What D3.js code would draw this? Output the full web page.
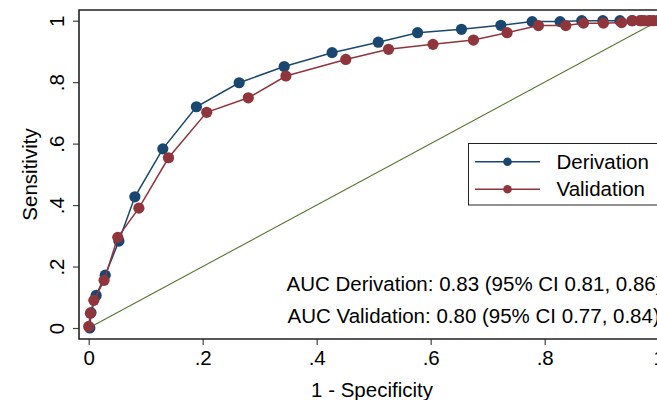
<!DOCTYPE html>
<html>
<head>
<meta charset="utf-8">
<script src="https://cdn.jsdelivr.net/npm/d3@7"></script>
<style>
  body { margin: 0; background: #fff; }
  svg { display: block; font-family: "Liberation Sans", Arial, Helvetica, sans-serif; }
</style>
</head>
<body>
<div id="chart"></div>
<script>
// ROC points, 1 - specificity vs sensitivity
var derivationX = [0.002, 0.004, 0.013, 0.029, 0.053, 0.081, 0.130, 0.189, 0.264, 0.343, 0.427, 0.508, 0.577, 0.654, 0.723, 0.778, 0.827, 0.865, 0.902, 0.932, 0.953, 0.970, 0.985, 1.000];
var derivationY = [0.000, 0.050, 0.106, 0.172, 0.283, 0.427, 0.583, 0.720, 0.798, 0.851, 0.896, 0.930, 0.961, 0.972, 0.985, 0.997, 0.997, 1.000, 1.000, 1.000, 1.000, 1.000, 1.000, 1.000];
var validationX = [0.000, 0.003, 0.009, 0.027, 0.051, 0.088, 0.140, 0.207, 0.280, 0.346, 0.451, 0.526, 0.604, 0.675, 0.734, 0.789, 0.837, 0.868, 0.903, 0.935, 0.954, 0.967, 0.975, 0.983, 0.991, 1.000];
var validationY = [0.005, 0.048, 0.090, 0.155, 0.295, 0.390, 0.554, 0.702, 0.749, 0.820, 0.874, 0.907, 0.923, 0.937, 0.961, 0.984, 0.984, 0.992, 0.992, 0.994, 1.000, 1.000, 1.000, 1.000, 1.000, 1.000];
var tickValues = [0, 0.2, 0.4, 0.6, 0.8, 1];
var tickLabels = ['0', '.2', '.4', '.6', '.8', '1'];
var seriesNames = ['Derivation', 'Validation'];
var aucLines = ['AUC Derivation: 0.83 (95% CI 0.81, 0.86)', 'AUC Validation: 0.80 (95% CI 0.77, 0.84)'];

var width = 657, height = 400;
var colors = ['#1a476f', '#90353b'];
var refColor = '#55752f';
var fontSize = 20.5;

var svg = d3.select('#chart').append('svg')
  .attr('width', width)
  .attr('height', height);

var x = d3.scaleLinear().domain([0, 1]).range([88.7, 658.7]);
var y = d3.scaleLinear().domain([0, 1]).range([328, 20.7]);

var axisX = 79, axisY = 339, topY = 10;

var fmt = function (d) {
  return tickLabels[tickValues.indexOf(d)];
};

// reference diagonal
svg.append('line')
  .attr('x1', x(0)).attr('y1', y(0))
  .attr('x2', x(1)).attr('y2', y(1))
  .attr('stroke', refColor)
  .attr('stroke-width', 1.1);

var series = [
  { name: seriesNames[0], xs: derivationX, ys: derivationY, color: colors[0] },
  { name: seriesNames[1], xs: validationX, ys: validationY, color: colors[1] }
];

var line = d3.line()
  .x(function (d) { return x(d[0]); })
  .y(function (d) { return y(d[1]); });

series.forEach(function (s) {
  var pts = s.xs.map(function (v, i) { return [v, s.ys[i]]; });
  var g = svg.append('g');
  g.append('path')
    .datum(pts)
    .attr('d', line)
    .attr('fill', 'none')
    .attr('stroke', s.color)
    .attr('stroke-width', 1.5);
  g.selectAll('circle')
    .data(pts)
    .enter()
    .append('circle')
    .attr('cx', function (d) { return x(d[0]); })
    .attr('cy', function (d) { return y(d[1]); })
    .attr('r', 5.6)
    .attr('fill', s.color);
});

// axes
var gy = svg.append('g')
  .attr('transform', 'translate(' + axisX + ',0)')
  .call(d3.axisLeft(y).tickValues(tickValues).tickFormat(fmt).tickSize(6));
gy.select('.domain').remove();
gy.selectAll('.tick line').attr('stroke', '#444').attr('stroke-width', 1.2);
gy.selectAll('.tick text')
  .attr('transform', 'rotate(-90)')
  .attr('x', 0)
  .attr('y', -15)
  .attr('dy', 0)
  .attr('text-anchor', 'middle')
  .attr('fill', '#000')
  .style('font-size', fontSize + 'px')
  .style('font-family', null);

var gx = svg.append('g')
  .attr('transform', 'translate(0,' + axisY + ')')
  .call(d3.axisBottom(x).tickValues(tickValues).tickFormat(fmt).tickSize(6));
gx.select('.domain').remove();
gx.selectAll('.tick line').attr('stroke', '#444').attr('stroke-width', 1.2);
gx.selectAll('.tick text')
  .attr('y', 26)
  .attr('dy', 0)
  .attr('fill', '#000')
  .style('font-size', fontSize + 'px')
  .style('font-family', null);

// frame: left axis, bottom axis, top border
svg.append('path')
  .attr('d', 'M' + (width + 5) + ',' + topY + 'H' + axisX + 'V' + axisY + 'H' + (width + 5))
  .attr('fill', 'none')
  .attr('stroke', '#222')
  .attr('stroke-width', 1.6);

// axis titles
svg.append('text')
  .attr('x', 372)
  .attr('y', 397)
  .attr('text-anchor', 'middle')
  .style('font-size', fontSize + 'px')
  .text('1 - Specificity');

svg.append('text')
  .attr('transform', 'translate(37,174.5) rotate(-90)')
  .attr('text-anchor', 'middle')
  .style('font-size', fontSize + 'px')
  .text('Sensitivity');

// AUC notes
svg.selectAll('.auc')
  .data(aucLines)
  .enter()
  .append('text')
  .attr('class', 'auc')
  .attr('x', function (d, i) { return i === 0 ? 286.5 : 287.5; })
  .attr('y', function (d, i) { return 291 + i * 32; })
  .style('font-size', fontSize + 'px')
  .text(function (d) { return d; });

// legend
var legend = svg.append('g');
legend.append('rect')
  .attr('x', 468.5).attr('y', 143.5)
  .attr('width', 200).attr('height', 61.5)
  .attr('fill', '#fff')
  .attr('stroke', '#222')
  .attr('stroke-width', 1);

var items = legend.selectAll('.item')
  .data(series)
  .enter()
  .append('g')
  .attr('transform', function (d, i) { return 'translate(0,' + (161.7 + i * 27.6) + ')'; });
items.append('line')
  .attr('x1', 475).attr('x2', 540)
  .attr('stroke', function (d) { return d.color; })
  .attr('stroke-width', 1.5);
items.append('circle')
  .attr('cx', 507.5).attr('r', 4.3)
  .attr('fill', function (d) { return d.color; });
items.append('text')
  .attr('x', 556.5)
  .attr('y', 7)
  .style('font-size', fontSize + 'px')
  .text(function (d) { return d.name; });
</script>
</body>
</html>
